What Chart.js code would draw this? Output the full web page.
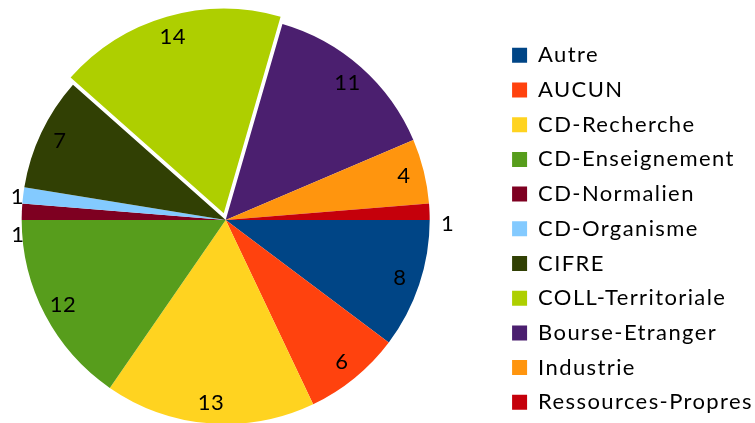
<!DOCTYPE html>
<html>
<head>
<meta charset="utf-8">
<script src="https://cdn.jsdelivr.net/npm/chart.js@4.4.0/dist/chart.umd.min.js"></script>
<style>
  html, body { margin: 0; padding: 0; background: #fff; overflow: hidden; }
  #wrap { width: 755px; height: 423px; overflow: hidden; position: relative; }
  /* le canevas déborde un peu : le camembert est décalé vers la gauche comme dans l'original */
  #myChart { position: absolute; left: -48px; top: 0; }
</style>
</head>
<body>
<div id="wrap"><canvas id="myChart" width="811" height="426"></canvas></div>
<script>
// données
const categories = ['Autre', 'AUCUN', 'CD-Recherche', 'CD-Enseignement', 'CD-Normalien', 'CD-Organisme',
  'CIFRE', 'COLL-Territoriale', 'Bourse-Etranger', 'Industrie', 'Ressources-Propres'];
const counts = [8, 6, 13, 12, 1, 1, 7, 14, 11, 4, 1];
const sliceColors = ['#004586', '#ff420e', '#ffd320', '#579d1c', '#7e0021', '#83caff',
  '#314004', '#aecf00', '#4b1f6f', '#ff950e', '#c5000b'];
const explodedSlice = 'COLL-Territoriale';

Chart.defaults.font.family = 'Lato, "Open Sans", sans-serif';
Chart.defaults.color = '#000';

// le texte d'origine est un peu plus large que Lato : on espace les lettres
const spacing = '1.4px';
const letterSpacing = {
  id: 'letterSpacing',
  beforeLayout(chart) { chart.ctx.letterSpacing = spacing; },
  beforeDraw(chart) { chart.ctx.letterSpacing = spacing; }
};

// petits décalages pour les étiquettes "1" placées hors du camembert
const outsideShift = { 4: [14, 24], 5: [12, 4], 10: [0, 13] };

const valueLabels = {
  id: 'valueLabels',
  afterDatasetsDraw(chart) {
    const ctx = chart.ctx;
    const meta = chart.getDatasetMeta(0);
    const data = chart.data.datasets[0].data;
    ctx.save();
    ctx.letterSpacing = '0.5px';
    ctx.font = '22px Lato';
    ctx.fillStyle = '#000';
    ctx.textAlign = 'center';
    ctx.textBaseline = 'middle';
    meta.data.forEach((arc, i) => {
      const p = arc.getProps(['x', 'y', 'startAngle', 'endAngle', 'outerRadius'], true);
      const mid = (p.startAngle + p.endAngle) / 2;
      const off = (arc.options.offset || 0) / 4;
      const outside = data[i] <= 1;
      const r = outside ? p.outerRadius + 18 : p.outerRadius * 0.9 + off;
      const s = outsideShift[i] || [0, 0];
      ctx.fillText(String(data[i]), p.x + Math.cos(mid) * r + s[0], p.y + Math.sin(mid) * r + s[1]);
    });
    ctx.restore();
  }
};

const ctx = document.getElementById('myChart').getContext('2d');
new Chart(ctx, {
  type: 'pie',
  data: {
    labels: categories,
    datasets: [{
      data: counts,
      backgroundColor: sliceColors,
      borderWidth: 0,
      offset: categories.map(c => c === explodedSlice ? 28 : 0)
    }]
  },
  options: {
    responsive: false,
    animation: false,
    rotation: 90,
    radius: 204,
    layout: { padding: { left: 0, right: 0, top: 14, bottom: 0 } },
    plugins: {
      legend: {
        position: 'right',
        align: 'end',
        labels: {
          boxWidth: 15,
          boxHeight: 15,
          padding: 12.7,
          color: '#000',
          font: { size: 22 }
        }
      },
      tooltip: { enabled: false }
    }
  },
  plugins: [letterSpacing, valueLabels]
});
</script>
</body>
</html>
